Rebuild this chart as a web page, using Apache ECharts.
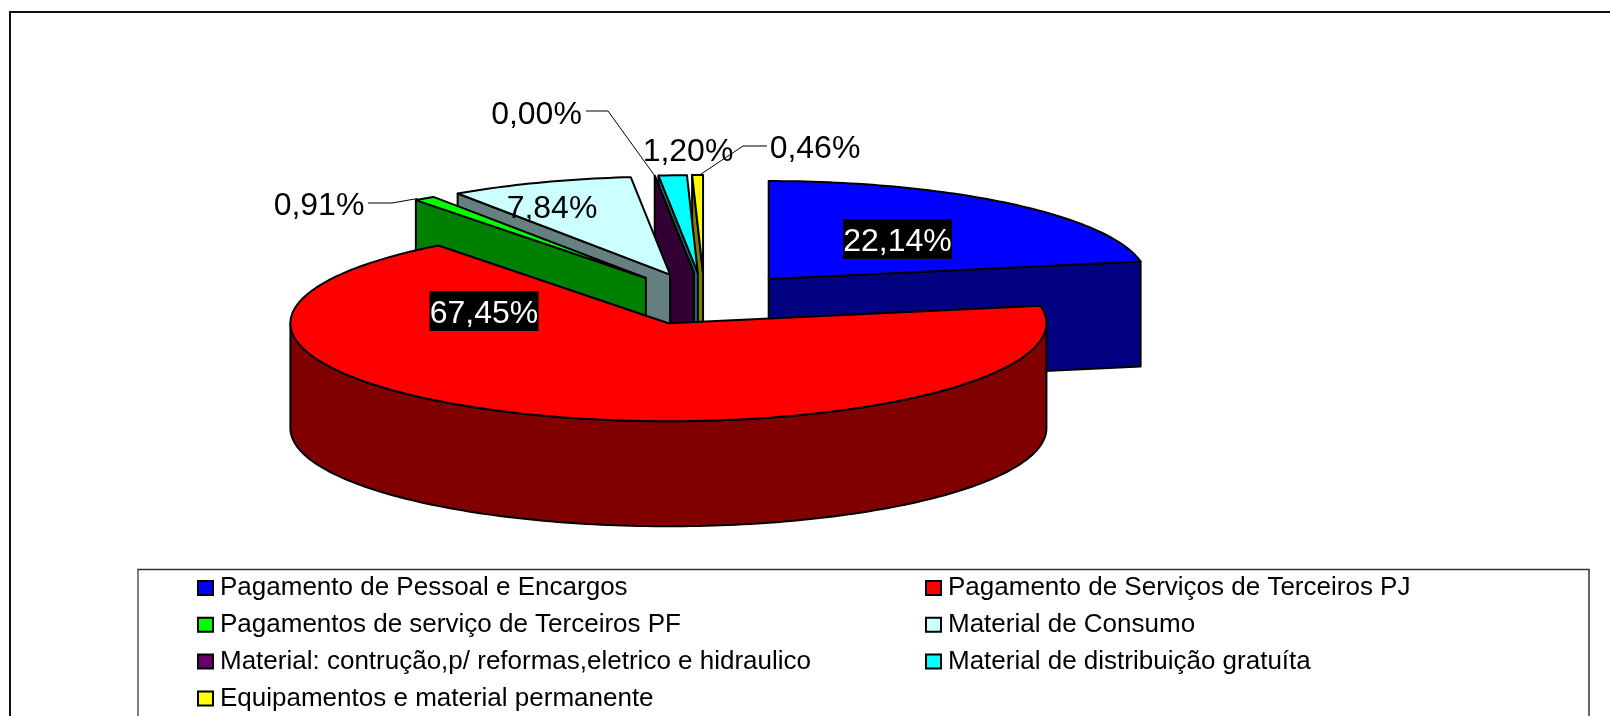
<!DOCTYPE html>
<html>
<head>
<meta charset="utf-8">
<title>Despesas</title>
<script src="https://cdn.jsdelivr.net/npm/echarts@6/dist/echarts.min.js"></script>
<style>
  html, body { margin: 0; padding: 0; background: #fff; }
  #chart { width: 1610px; height: 716px; }
</style>
</head>
<body>
<div id="chart"></div>
<script>
// chart data
const categories = [
    'Pagamento de Pessoal e Encargos',
    'Pagamento de Serviços de Terceiros PJ',
    'Pagamentos de serviço de Terceiros PF',
    'Material de Consumo',
    'Material: contrução,p/ reformas,eletrico e hidraulico',
    'Material de distribuição gratuíta',
    'Equipamentos e material permanente'
];
const values = [22.14, 67.45, 0.91, 7.84, 0.00, 1.20, 0.46];
const topColors = ['#0000ff', '#ff0000', '#00ff00', '#ccffff', '#660066', '#00ffff', '#ffff00'];
const sideColors = ['#000080', '#800000', '#008000', '#668080', '#330033', '#008080', '#808000'];

// back to front, the slices overlap each other in this order
const drawOrder = [0, 6, 5, 4, 3, 2, 1];

// pie projection
const pie = { cx: 704.5, cy: 299, rx: 378, ry: 98, depth: 105, explode: 0.265 };

// label text position (text centre), optional black box and leader elbows
const labelLayout = [
    { x: 897.5, y: 242, box: true },
    { x: 484, y: 314, box: true },
    { x: 319, y: 206, leader: [[368, 203], [392, 203]], anchor: [-7, 0] },
    { x: 552, y: 209 },
    { x: 536.5, y: 115, leader: [[586, 111], [608, 111]], anchor: [0, 0] },
    { x: 688, y: 152 },
    { x: 815, y: 149, leader: [[767, 146], [743, 146]], anchor: [2, 0] }
];

const total = values.reduce((a, b) => a + b, 0);
const starts = [];
values.reduce((sum, v, i) => { starts[i] = sum; return sum + v; }, 0);

function toAngle(pct) {
    return pct / total * Math.PI * 2;
}

function rimPoint(c, a, dy) {
    return [c[0] + pie.rx * Math.sin(a), c[1] - pie.ry * Math.cos(a) + (dy || 0)];
}

function arcPoints(c, a0, a1, dy) {
    const pts = [];
    const n = Math.max(2, Math.ceil(Math.abs(a1 - a0) / 0.02));
    for (let i = 0; i <= n; i++) {
        pts.push(rimPoint(c, a0 + (a1 - a0) * i / n, dy));
    }
    return pts;
}

function poly(points, fill) {
    return {
        type: 'polygon',
        shape: { points: points },
        style: { fill: fill, stroke: '#000', lineWidth: 2, lineJoin: 'round' }
    };
}

function renderSlice(params, api) {
    const idx = api.value(0);
    const a0 = toAngle(api.value(1));
    const a1 = a0 + toAngle(api.value(2));
    const mid = (a0 + a1) / 2;
    const c = [
        pie.cx + pie.explode * pie.rx * Math.sin(mid),
        pie.cy - pie.explode * pie.ry * Math.cos(mid)
    ];
    const children = [];
    const wall = (a) => {
        const p = rimPoint(c, a);
        return poly([c, p, [p[0], p[1] + pie.depth], [c[0], c[1] + pie.depth]], sideColors[idx]);
    };
    // only the walls facing the viewer
    if (Math.sin(a0) < -1e-6) children.push(wall(a0));
    if (Math.sin(a1) > 1e-6) children.push(wall(a1));
    // outer rim, front half
    const r0 = Math.max(a0, Math.PI / 2);
    const r1 = Math.min(a1, Math.PI * 1.5);
    if (r1 > r0) {
        children.push(poly(
            arcPoints(c, r0, r1, 0).concat(arcPoints(c, r1, r0, pie.depth)),
            sideColors[idx]
        ));
    }
    // top face
    children.push(poly([c].concat(arcPoints(c, a0, a1, 0)), topColors[idx]));

    const lay = labelLayout[idx];
    if (lay.leader) {
        const end = rimPoint(c, mid);
        children.push({
            type: 'polyline',
            shape: { points: lay.leader.concat([[end[0] + lay.anchor[0], end[1] + lay.anchor[1]]]) },
            style: { fill: null, stroke: '#000', lineWidth: 1 }
        });
    }
    if (lay.box) {
        // text padding does not move the glyphs inside the box, so draw it apart
        children.push({
            type: 'rect',
            z2: 9,
            shape: { x: lay.x - 54.5, y: lay.y - 23, width: 109, height: 40 },
            style: { fill: '#000' }
        });
    }
    children.push({
        type: 'text',
        z2: 10,
        style: {
            x: lay.x,
            y: lay.y,
            text: api.value(2).toFixed(2).replace('.', ',') + '%',
            font: '32px "Liberation Sans", Arial, sans-serif',
            fill: lay.box ? '#fff' : '#000',
            align: 'center',
            verticalAlign: 'middle'
        }
    });
    return { type: 'group', children: children };
}

const chart = echarts.init(document.getElementById('chart'), null, { renderer: 'canvas' });

function legendColumn(left, top, ids) {
    return {
        orient: 'vertical',
        left: left,
        top: top,
        padding: 0,
        itemWidth: 15,
        itemHeight: 14,
        itemGap: 10.8,
        selectedMode: false,
        icon: 'rect',
        itemStyle: { borderColor: '#000', borderWidth: 2 },
        textStyle: {
            fontFamily: '"Liberation Sans", Arial, sans-serif',
            fontSize: 26,
            lineHeight: 26,
            color: '#000',
            padding: [0, 0, 0, 2]
        },
        data: ids.map(i => categories[i])
    };
}

chart.setOption({
    backgroundColor: '#ffffff',
    animation: false,
    tooltip: { show: false },
    legend: [
        legendColumn(197, 575, [0, 2, 4, 6]),
        legendColumn(925, 575, [1, 3, 5])
    ],
    graphic: [
        {
            type: 'rect',
            silent: true,
            z: -1,
            shape: { x: 10, y: 12, width: 1700, height: 800 },
            style: { fill: '#fff', stroke: '#111', lineWidth: 2 }
        },
        {
            type: 'rect',
            silent: true,
            z: -1,
            shape: { x: 138, y: 569.5, width: 1451, height: 200 },
            style: { fill: '#fff', stroke: '#333', lineWidth: 1.5 }
        },
        {
            type: 'line',
            silent: true,
            z: -1,
            shape: { x1: 138, y1: 570, x2: 138, y2: 716 },
            style: { stroke: '#808080', lineWidth: 2 }
        }
    ],
    series: drawOrder.map((i, pos) => ({
        type: 'custom',
        name: categories[i],
        coordinateSystem: 'none',
        z: 2 + pos,
        silent: true,
        itemStyle: { color: topColors[i] },
        renderItem: renderSlice,
        data: [[i, starts[i], values[i]]]
    }))
});
</script>
</body>
</html>
